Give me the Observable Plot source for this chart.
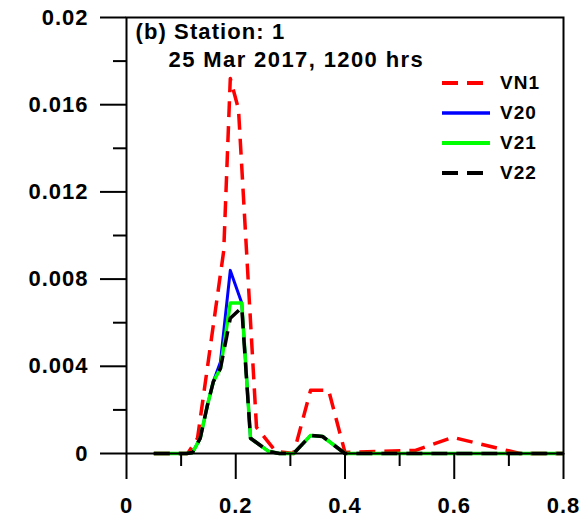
<!DOCTYPE html>
<html><head><meta charset="utf-8">
<script src="https://cdn.jsdelivr.net/npm/d3@7"></script>
<script src="https://cdn.jsdelivr.net/npm/@observablehq/plot@0.6"></script>
<style>
html,body{margin:0;padding:0;background:#fff;}
#wrap{position:relative;width:583px;height:517px;}
#wrap svg text{letter-spacing:1px;}
.legend{position:absolute;left:442px;top:68px;font-family:"Liberation Sans",Arial,sans-serif;font-weight:bold;font-size:19px;letter-spacing:1px;color:#000;}
.legend .row{display:flex;align-items:center;height:30px;}
.legend svg{width:48px;height:8px;margin-right:10px;display:block;}
</style></head><body><div id="wrap"></div>
<script>
// x positions (shared grid for V20, V21, V22)
const xObs = [0.05, 0.11, 0.121, 0.135, 0.148, 0.159, 0.172, 0.19, 0.211, 0.227, 0.26, 0.28, 0.306, 0.337, 0.359, 0.40, 0.8];
const V20  = [0, 0, 0.00005, 0.0007, 0.0022, 0.0033, 0.0042, 0.0084, 0.0069, 0.0007, 0.0001, 0, 0, 0.00083, 0.00078, 0, 0];
const V21  = [0, 0, 0.00005, 0.0007, 0.0022, 0.0033, 0.0039, 0.0069, 0.0069, 0.0007, 0.0001, 0, 0, 0.00083, 0.00078, 0, 0];
const V22  = [0, 0, 0.00005, 0.0007, 0.0022, 0.0033, 0.0039, 0.0062, 0.0067, 0.0007, 0.0001, 0, 0, 0.00083, 0.00078, 0, 0];
// x positions for VN1
const xVN1 = [0.05, 0.112, 0.13, 0.178, 0.19, 0.205, 0.238, 0.273, 0.306, 0.337, 0.37, 0.40, 0.465, 0.529, 0.597, 0.72, 0.8];
const VN1  = [0, 0, 0.0007, 0.0093, 0.0172, 0.0158, 0.0012, 0.0001, 0, 0.0029, 0.0029, 0.00005, 0.0001, 0.00014, 0.00074, 0, 0];

const seriesNames = ["VN1", "V20", "V21", "V22"];
const seriesColors = ["#ff0000", "#0000ff", "#00ff00", "#000000"];
const seriesDash = ["16,9", null, null, "16,9"];
const seriesWidth = [3.5, 3, 3.5, 3.5];

const xTicksMajor = [0, 0.2, 0.4, 0.6, 0.8];
const xTicksMinor = [0.1, 0.3, 0.5, 0.7];
const yTicksMajor = [0, 0.004, 0.008, 0.012, 0.016, 0.02];
const yTicksMinor = [0.002, 0.006, 0.01, 0.014, 0.018];

const titleLines = ["(b) Station: 1", "25 Mar 2017, 1200 hrs"];

const table = [];
const srcX = [xVN1, xObs, xObs, xObs];
const srcY = [VN1, V20, V21, V22];
seriesNames.forEach((s, i) => srcX[i].forEach((x, j) => table.push({s, x, y: srcY[i][j]})));

const font = '"Liberation Sans", Arial, sans-serif';
const fmtY = d => String(+d.toFixed(3));
const fmtX = d => d === 0 ? "0" : d.toFixed(1);

const lineMarks = seriesNames.map((s, i) => Plot.line(table.filter(d => d.s === s), {
  x: "x", y: "y", stroke: seriesColors[i], strokeWidth: seriesWidth[i],
  strokeDasharray: seriesDash[i] || undefined, strokeLinejoin: "round", strokeLinecap: "butt"
}));

const chart = Plot.plot({
  width: 583, height: 517,
  marginLeft: 126, marginRight: 20, marginTop: 17, marginBottom: 64,
  style: {fontFamily: font, fontWeight: "bold", fontSize: "22px", color: "#000", background: "#fff"},
  x: {domain: [0, 0.8], label: null},
  y: {domain: [0, 0.02], label: null},
  marks: [
    ...lineMarks,
    Plot.frame({stroke: "#000", strokeWidth: 2}),
    Plot.axisY({ticks: yTicksMajor, tickSize: 26, tickPadding: 12, tickFormat: fmtY, strokeWidth: 2, fontSize: 22, label: null}),
    Plot.axisY({ticks: yTicksMinor, tickSize: 13, tickFormat: () => "", strokeWidth: 2, label: null}),
    Plot.axisX({ticks: xTicksMajor, tickSize: 26, tickPadding: 18, tickFormat: fmtX, strokeWidth: 2, fontSize: 22, label: null}),
    Plot.axisX({ticks: xTicksMinor, tickSize: 13, tickFormat: () => "", strokeWidth: 2, label: null}),
    Plot.text([titleLines[0]], {frameAnchor: "top-left", text: d => d, dx: 9, dy: 6, fontSize: 22, fontWeight: "bold", textAnchor: "start", lineAnchor: "top", className: "title1"}),
    Plot.text([titleLines[1]], {frameAnchor: "top-left", text: d => d, dx: 42, dy: 34, fontSize: 22, fontWeight: "bold", textAnchor: "start", lineAnchor: "top", className: "title2"})
  ]
});
const wrap = document.getElementById("wrap");
wrap.appendChild(chart);
d3.select(chart).selectAll(".title1 text").style("letter-spacing", "1.1px");
d3.select(chart).selectAll(".title2 text").style("letter-spacing", "1.4px");

const legend = document.createElement("div");
legend.className = "legend";
seriesNames.forEach((s, i) => {
  const row = document.createElement("div");
  row.className = "row";
  const dash = seriesDash[i] ? `stroke-dasharray="${seriesDash[i]}"` : "";
  row.innerHTML = `<svg viewBox="0 0 48 8"><line x1="0" y1="4" x2="48" y2="4" stroke="${seriesColors[i]}" stroke-width="${seriesWidth[i]+0.5}" ${dash}/></svg><span>${s}</span>`;
  legend.appendChild(row);
});
wrap.appendChild(legend);
</script></body></html>
